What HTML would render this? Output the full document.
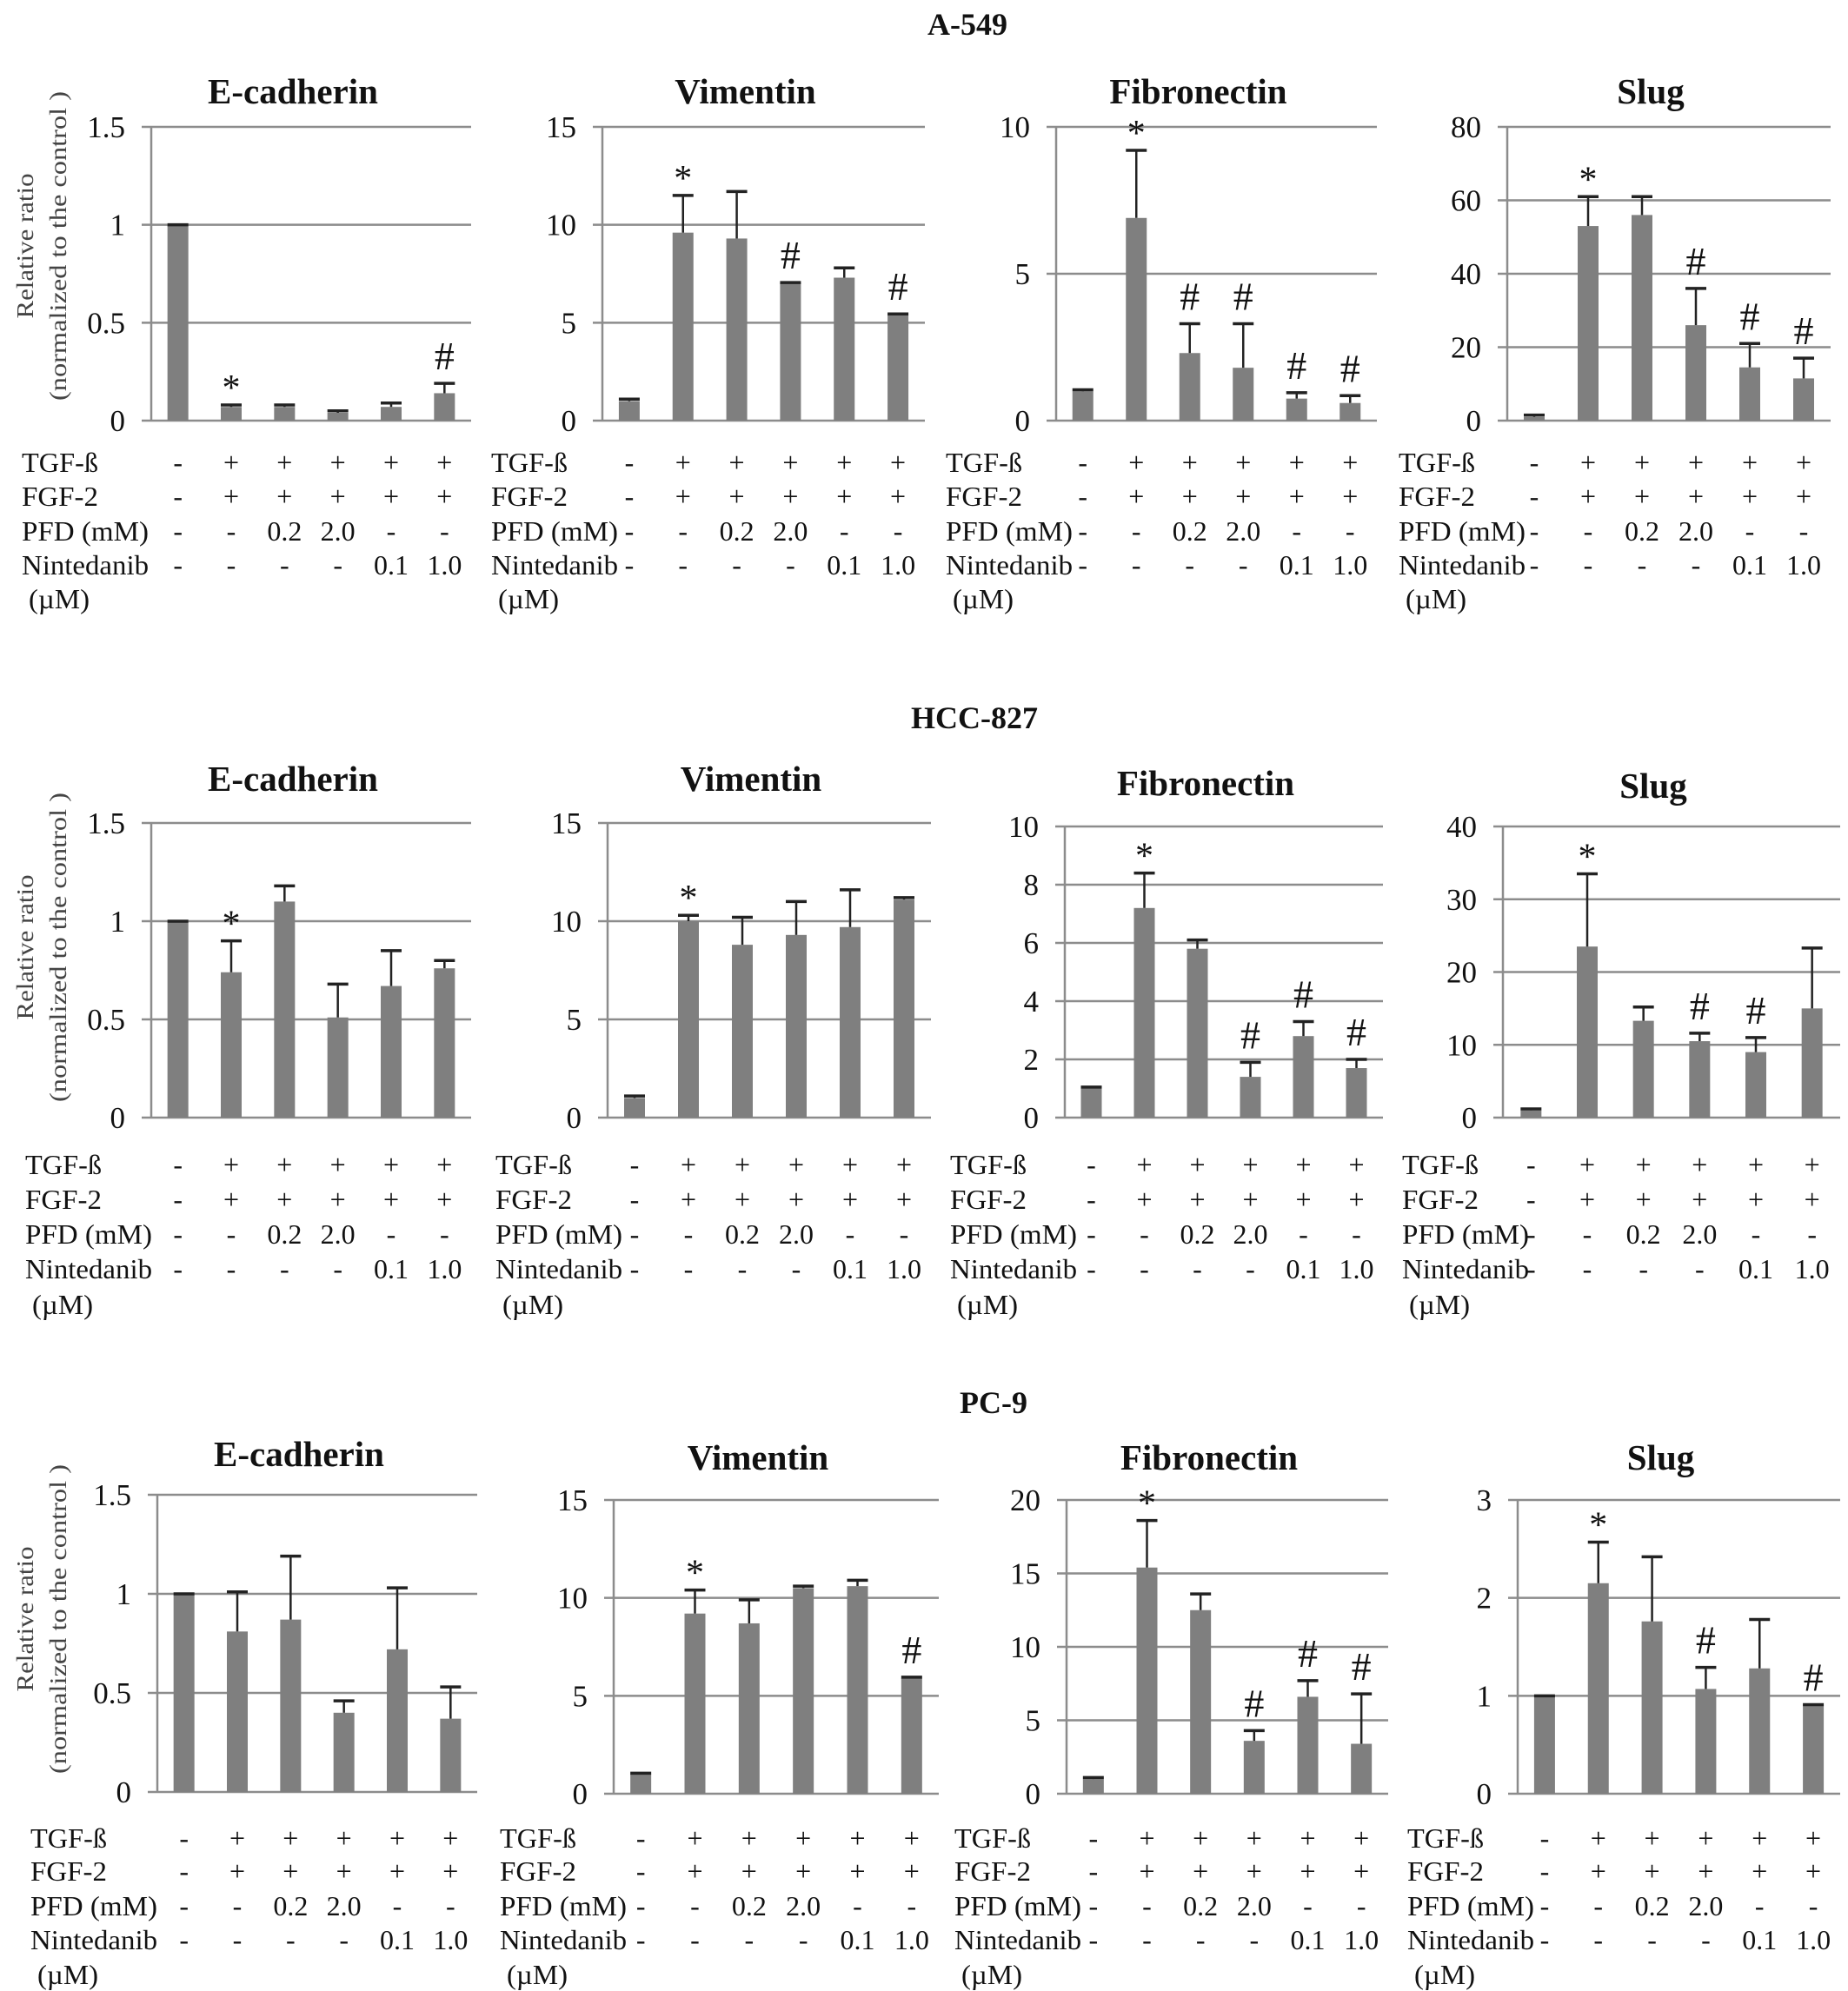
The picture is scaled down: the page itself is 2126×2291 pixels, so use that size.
<!DOCTYPE html>
<html><head><meta charset="utf-8"><style>
html,body{margin:0;padding:0;background:#fff;}
svg{display:block;}
text{font-family:"Liberation Serif",serif;fill:#111;}
</style></head><body>
<svg id="fig" width="2126" height="2291" viewBox="0 0 2126 2291" xmlns="http://www.w3.org/2000/svg">
<text x="1113" y="40" font-size="36" font-weight="bold" text-anchor="middle">A-549</text>
<text x="1121" y="838" font-size="36" font-weight="bold" text-anchor="middle">HCC-827</text>
<text x="1143" y="1626" font-size="36" font-weight="bold" text-anchor="middle">PC-9</text>
</svg>
<script>
// ---- data ----
const markerNames = ["E-cadherin","Vimentin","Fibronectin","Slug"];
const rowLabels = ["TGF-ß","FGF-2","PFD (mM)","Nintedanib","(µM)"];
const tgfRow = ["-","+","+","+","+","+"];
const fgfRow = ["-","+","+","+","+","+"];
const pfdRow = ["-","-","0.2","2.0","-","-"];
const ninRow = ["-","-","-","-","0.1","1.0"];

// A-549
const a549Ecad = [1,0.07,0.07,0.04,0.07,0.14];
const a549EcadErr = [0,0.01,0.01,0.01,0.02,0.05];
const a549Vim = [1,9.6,9.3,7.0,7.3,5.4];
const a549VimErr = [0.1,1.9,2.4,0.05,0.5,0.05];
const a549Fib = [1,6.9,2.3,1.8,0.75,0.6];
const a549FibErr = [0.05,2.3,1.0,1.5,0.2,0.25];
const a549Slug = [1,53,56,26,14.5,11.5];
const a549SlugErr = [0.5,8,5,10,6.5,5.5];
// HCC-827
const hccEcad = [1,0.74,1.1,0.51,0.67,0.76];
const hccEcadErr = [0,0.16,0.08,0.17,0.18,0.04];
const hccVim = [1,10,8.8,9.3,9.7,11.1];
const hccVimErr = [0.1,0.3,1.4,1.7,1.9,0.1];
const hccFib = [1,7.2,5.8,1.4,2.8,1.7];
const hccFibErr = [0.05,1.2,0.3,0.5,0.5,0.3];
const hccSlug = [1,23.5,13.3,10.5,9,15];
const hccSlugErr = [0.2,10,1.9,1.1,2,8.3];
// PC-9
const pcEcad = [1,0.81,0.87,0.4,0.72,0.37];
const pcEcadErr = [0,0.2,0.32,0.06,0.31,0.16];
const pcVim = [1,9.2,8.7,10.5,10.6,5.9];
const pcVimErr = [0.05,1.2,1.2,0.1,0.3,0.05];
const pcFib = [1,15.4,12.5,3.6,6.6,3.4];
const pcFibErr = [0.1,3.2,1.1,0.7,1.1,3.4];
const pcSlug = [1,2.15,1.76,1.07,1.28,0.9];
const pcSlugErr = [0,0.42,0.66,0.22,0.5,0.01];

// significance marks
const a549Marks = [["","*","","","","#"],["","*","","#","","#"],["","*","#","#","#","#"],["","*","","#","#","#"]];
const hccMarks = [["","*","","","",""],["","*","","","",""],["","*","","#","#","#"],["","*","","#","#",""]];
const pcMarks = [["","","","","",""],["","*","","","","#"],["","*","","#","#","#"],["","*","","#","","#"]];

// axis ticks
const a549Ticks = [[0,0.5,1,1.5],[0,5,10,15],[0,5,10],[0,20,40,60,80]];
const hccTicks = [[0,0.5,1,1.5],[0,5,10,15],[0,2,4,6,8,10],[0,10,20,30,40]];
const pcTicks = [[0,0.5,1,1.5],[0,5,10,15],[0,5,10,15,20],[0,1,2,3]];

// ---- layout (pixels) ----
const rows = [
 {key:"a549", vals:[a549Ecad,a549Vim,a549Fib,a549Slug], errs:[a549EcadErr,a549VimErr,a549FibErr,a549SlugErr], marks:a549Marks, ticks:a549Ticks,
  panels:[{x0:174,x1:542,yT:146,yZ:484,lx:25,ty:105},{x0:693,x1:1064,yT:146,yZ:484,lx:565,ty:105},{x0:1215,x1:1584,yT:146,yZ:484,lx:1088,ty:105},{x0:1734,x1:2106,yT:146,yZ:484,lx:1609,ty:105}],
  tableY:[532,571,611,650,689], ylabY:283},
 {key:"hcc827", vals:[hccEcad,hccVim,hccFib,hccSlug], errs:[hccEcadErr,hccVimErr,hccFibErr,hccSlugErr], marks:hccMarks, ticks:hccTicks,
  panels:[{x0:174,x1:542,yT:947,yZ:1286,lx:29,ty:896},{x0:699,x1:1071,yT:947,yZ:1286,lx:570,ty:896},{x0:1225,x1:1591,yT:951,yZ:1286,lx:1093,ty:901},{x0:1729,x1:2117,yT:951,yZ:1286,lx:1613,ty:904}],
  tableY:[1340,1380,1420,1460,1501], ylabY:1090},
 {key:"pc9", vals:[pcEcad,pcVim,pcFib,pcSlug], errs:[pcEcadErr,pcVimErr,pcFibErr,pcSlugErr], marks:pcMarks, ticks:pcTicks,
  panels:[{x0:181,x1:549,yT:1720,yZ:2062,lx:35,ty:1673},{x0:706,x1:1080,yT:1726,yZ:2064,lx:575,ty:1677},{x0:1227,x1:1597,yT:1726,yZ:2064,lx:1098,ty:1677},{x0:1746,x1:2117,yT:1726,yZ:2064,lx:1619,ty:1677}],
  tableY:[2115,2153,2193,2232,2272], ylabY:1863}
];
const labelLens = [88,88,146,146,70];

const svg = document.getElementById('fig');
const NS = "http://www.w3.org/2000/svg";
function mk(tag, attrs, parent){
  const e = document.createElementNS(NS, tag);
  for (const k in attrs) e.setAttribute(k, attrs[k]);
  (parent||svg).appendChild(e);
  return e;
}
rows.forEach((row, ri) => {
  const yt = mk('g', {});
  
  
  const t1 = mk('text', {transform:`translate(38,${row.ylabY}) rotate(-90)`, 'text-anchor':'middle', 'font-size':27, textLength:167, lengthAdjust:'spacingAndGlyphs'}, yt);
  t1.textContent = 'Relative ratio';
  t1.setAttribute('style','fill:#444');
  const t2 = mk('text', {transform:`translate(76,${row.ylabY}) rotate(-90)`, 'text-anchor':'middle', 'font-size':27, textLength:356, lengthAdjust:'spacingAndGlyphs'}, yt);
  t2.textContent = '(normalized to the control )';
  t2.setAttribute('style','fill:#444');

  row.panels.forEach((p, pi) => {
    const vals = row.vals[pi], errs = row.errs[pi], ticks = row.ticks[pi], marks = row.marks[pi];
    const g = mk('g', {});
    
    
    const maxV = ticks[ticks.length-1];
    const yS = v => p.yZ - (v / maxV) * (p.yZ - p.yT);
    const band = (p.x1 - p.x0) / vals.length;
    const xS = i => p.x0 + (i + 0.5) * band;
    const tt = mk('text', {x:(p.x0+p.x1)/2 - 21, y:p.ty + 14, 'text-anchor':'middle', 'font-size':41, 'font-weight':'bold'}, g);
    tt.textContent = markerNames[pi];
    
    
    ticks.forEach(tv => {
      const y = yS(tv);
      const gl = mk('line', {x1:p.x0-11, x2:p.x1, y1:y, y2:y, stroke:'#8c8c8c', 'stroke-width':2.5}, g);
      
      
      const tl = mk('text', {x:p.x0-30, y:y+12, 'text-anchor':'end', 'font-size':35}, g);
      tl.textContent = String(tv);
      
      
    });
    const ax = mk('line', {x1:p.x0, x2:p.x0, y1:p.yT, y2:p.yZ, stroke:'#8c8c8c', 'stroke-width':2.5}, g);
    
    
    vals.forEach((v, i) => {
      const cx = xS(i);
      const r = mk('rect', {x:cx-12, y:yS(v), width:24, height:p.yZ - yS(v), fill:'#7f7f7f'}, g);
      
      
      const top = yS(v + errs[i]);
      const el = mk('line', {x1:cx, x2:cx, y1:yS(v), y2:top, stroke:'#222', 'stroke-width':2.5}, g);
      
      
      const cap = mk('line', {x1:cx-12, x2:cx+12, y1:top, y2:top, stroke:'#222', 'stroke-width':3.5}, g);
      
      
      if (marks[i]) {
        const star = marks[i] === '*';
        const m = mk('text', {x:cx, y:top - (star ? 6 : 16), 'text-anchor':'middle', 'font-size': star ? 42 : 46}, g);
        m.textContent = marks[i];
        
        
      }
    });
    const tableRows = [tgfRow, fgfRow, pfdRow, ninRow];
    rowLabels.forEach((lab, li) => {
      const y = row.tableY[li] + 11;
      const lt = mk('text', {x:p.lx + (li === 4 ? 8 : 0), y:y, 'font-size':32, textLength:labelLens[li], lengthAdjust:'spacingAndGlyphs'}, g);
      lt.textContent = lab;
      
      
      if (li < 4) {
        tableRows[li].forEach((c, ci) => {
          const ct = mk('text', {x:xS(ci), y:y, 'text-anchor':'middle', 'font-size':32}, g);
          ct.textContent = c;
          
          
        });
      }
    });
  });
});
</script>
</body></html>
